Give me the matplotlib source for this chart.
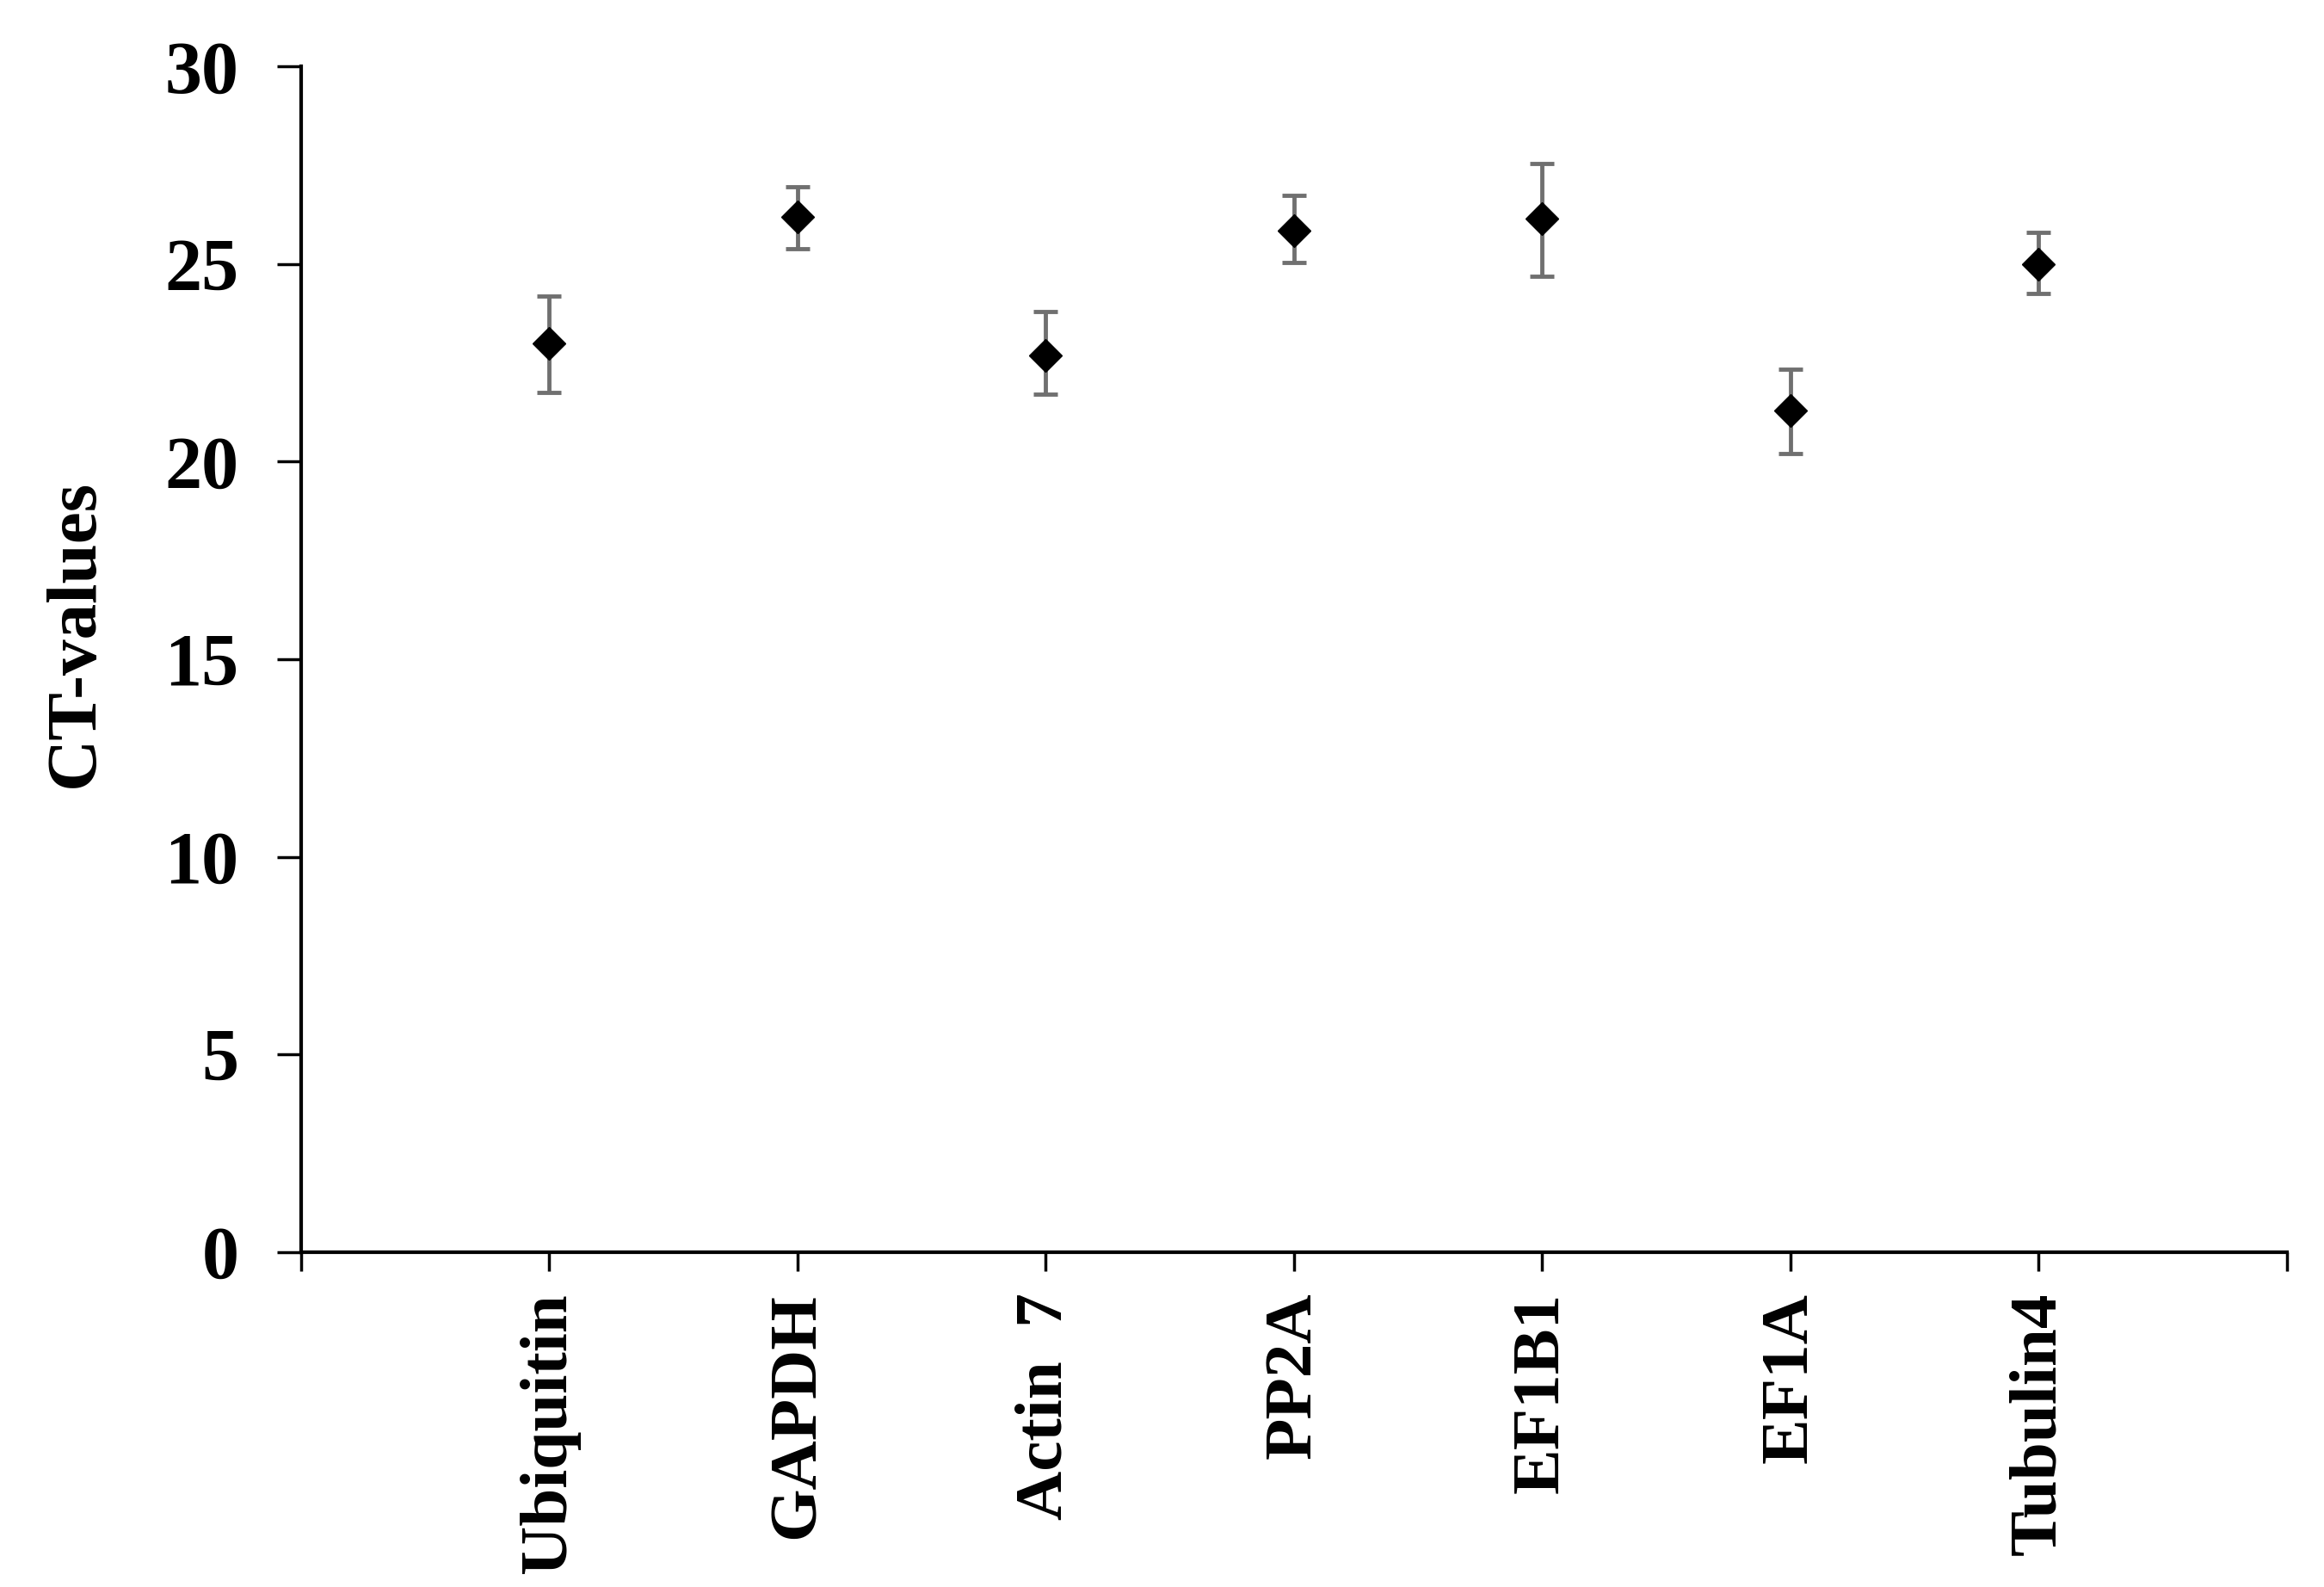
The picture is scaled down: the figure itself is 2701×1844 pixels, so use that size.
import matplotlib
matplotlib.use("Agg")
import matplotlib.pyplot as plt

genes = ["Ubiquitin", "GAPDH", "Actin  7", "PP2A", "EF1B1", "EF1A", "Tubulin4"]
ct_values = [23.0, 26.2, 22.7, 25.85, 26.15, 21.3, 25.0]
ct_err_up = [1.2, 0.75, 1.1, 0.9, 1.4, 1.05, 0.8]
ct_err_down = [1.25, 0.8, 1.0, 0.8, 1.45, 1.1, 0.75]
yticks = [0, 5, 10, 15, 20, 25, 30]

plt.rcParams['font.family'] = ['Liberation Serif', 'DejaVu Serif']
plt.rcParams['font.weight'] = 'bold'

fig = plt.figure(figsize=(27.01, 18.44), dpi=100)
ax = fig.add_axes([0.1295, 0.2112, 0.8545, 0.7468])

xpos = list(range(1, len(genes) + 1))
ax.errorbar(xpos, ct_values, yerr=[ct_err_down, ct_err_up], fmt='D',
            color='black', mfc='black', mec='black', markersize=19,
            ecolor='#707070', elinewidth=3.5, capsize=10, capthick=3.5)

ax.set_xlim(0, len(genes) + 1)
ax.set_ylim(0, 30)
ax.set_yticks(yticks)
ax.set_yticklabels([str(v) for v in yticks], fontsize=62, fontweight='bold')
ax.set_xticks(range(0, len(genes) + 2))
ax.set_xticklabels([""] + genes + [""], rotation=90, fontsize=57, fontweight='bold')
ax.set_ylabel("CT-values", fontsize=60, fontweight='bold')
ax.yaxis.set_label_coords(-0.097, 0.522)

for s in ['top', 'right']:
    ax.spines[s].set_visible(False)
for s in ['left', 'bottom']:
    ax.spines[s].set_linewidth(3)
    ax.spines[s].set_color('black')
ax.tick_params(axis='y', direction='out', length=20, width=2.5, pad=32)
ax.tick_params(axis='x', direction='out', length=16, width=2.5, pad=18)

fig.savefig("out.png", dpi=100)
